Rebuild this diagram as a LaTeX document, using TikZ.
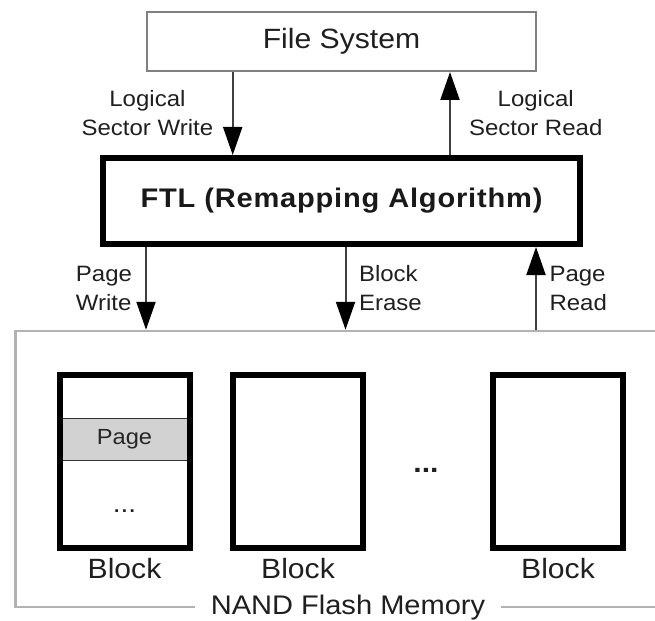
\documentclass[tikz,border=0pt]{standalone}
\usepackage{fontspec}
\setmainfont{Liberation Sans}[FakeStretch=1.08]
\usetikzlibrary{arrows.meta,positioning}

\begin{document}
\begin{tikzpicture}[
    x=1bp, y=-1bp,
    fsbox/.style={draw=gray, line width=2bp, minimum width=389bp,
                  minimum height=59bp, inner sep=0pt, text=black!88,
                  font=\fontsize{28}{34}\selectfont},
    ftlbox/.style={draw=black, line width=6bp, minimum width=477bp,
                   minimum height=86bp, inner sep=0pt, text=black!90,
                   font=\fontsize{27}{32}\selectfont\bfseries\addfontfeatures{LetterSpace=3}},
    memframe/.style={draw=black!30, line width=2.5bp, minimum width=689.5bp,
                     minimum height=276bp, inner sep=0pt},
    blk/.style={draw=black, line width=6bp, minimum width=130bp,
                minimum height=173bp, inner sep=0pt},
    pagerow/.style={draw=black!80, line width=1.2bp, fill=gray!35,
                    minimum width=130bp, minimum height=42.5bp, inner sep=0pt,
                    text=black!85, font=\fontsize{22}{26}\selectfont},
    arr/.style={-{Triangle[length=28bp, width=19bp, color=black]},
                line width=2bp, draw=black!75},
    lbl/.style={font=\fontsize{22.3}{29}\selectfont, inner sep=0pt, text=black!88},
    biglbl/.style={font=\fontsize{28}{34}\selectfont, inner sep=0pt, text=black!88}
]
\useasboundingbox (0,0) rectangle (655,621);
\clip (0,0) rectangle (655,621);

\node[fsbox]    (fs)  at (341.5,41.5) {File System};
\node[ftlbox]   (ftl) at (341.5,201)  {FTL (Remapping Algorithm)};
\node[memframe] (mem) at (360.25,469) {};

\coordinate (lsw)  at (232.7,0);
\coordinate (lsr)  at (450,0);
\coordinate (pw)   at (146,0);
\coordinate (be)   at (345.5,0);
\coordinate (pr)   at (536,0);
\coordinate (memmid) at (348,0);

\draw[arr] (fs.south -| lsw) -- node[lbl, align=center, left=18.5bp] {Logical\\Sector Write} (ftl.north -| lsw);
\draw[arr] (ftl.north -| lsr) -- node[lbl, align=center, right=18bp] {Logical\\Sector Read} (fs.south -| lsr);
\draw[arr] (ftl.south -| pw) -- node[lbl, align=left, left=13bp] {Page\\Write} (mem.north -| pw);
\draw[arr] (ftl.south -| be) -- node[lbl, align=left, right=12.5bp] {Block\\Erase} (mem.north -| be);
\draw[arr] (mem.north -| pr) -- node[lbl, align=left, right=12.5bp] {Page\\Read} (ftl.south -| pr);

\node[pagerow] (page) at (124.5,439.5) {Page};
\node[blk] (blk1) at (124.5,461.5) {};
\node[blk] (blk2) at (298,461.5)   {};
\node[blk] (blk3) at (558,461.5)   {};
\node[lbl, font=\fontsize{26}{30}\selectfont, anchor=base] (pdots) at (124.5,512) {...};
\node[biglbl, font=\fontsize{28}{34}\selectfont\bfseries, anchor=base] (bdots) at (426,472) {...};
\foreach \b in {1,2,3}
    \node[biglbl, anchor=base, yshift=-27bp] (blbl\b) at (blk\b.south) {Block};

\node[biglbl, font=\fontsize{27}{32}\selectfont, fill=white, inner xsep=16bp,
      anchor=base, yshift=-6bp] (memlbl)
    at (memmid |- mem.south) {NAND Flash Memory};

\end{tikzpicture}
\end{document}
